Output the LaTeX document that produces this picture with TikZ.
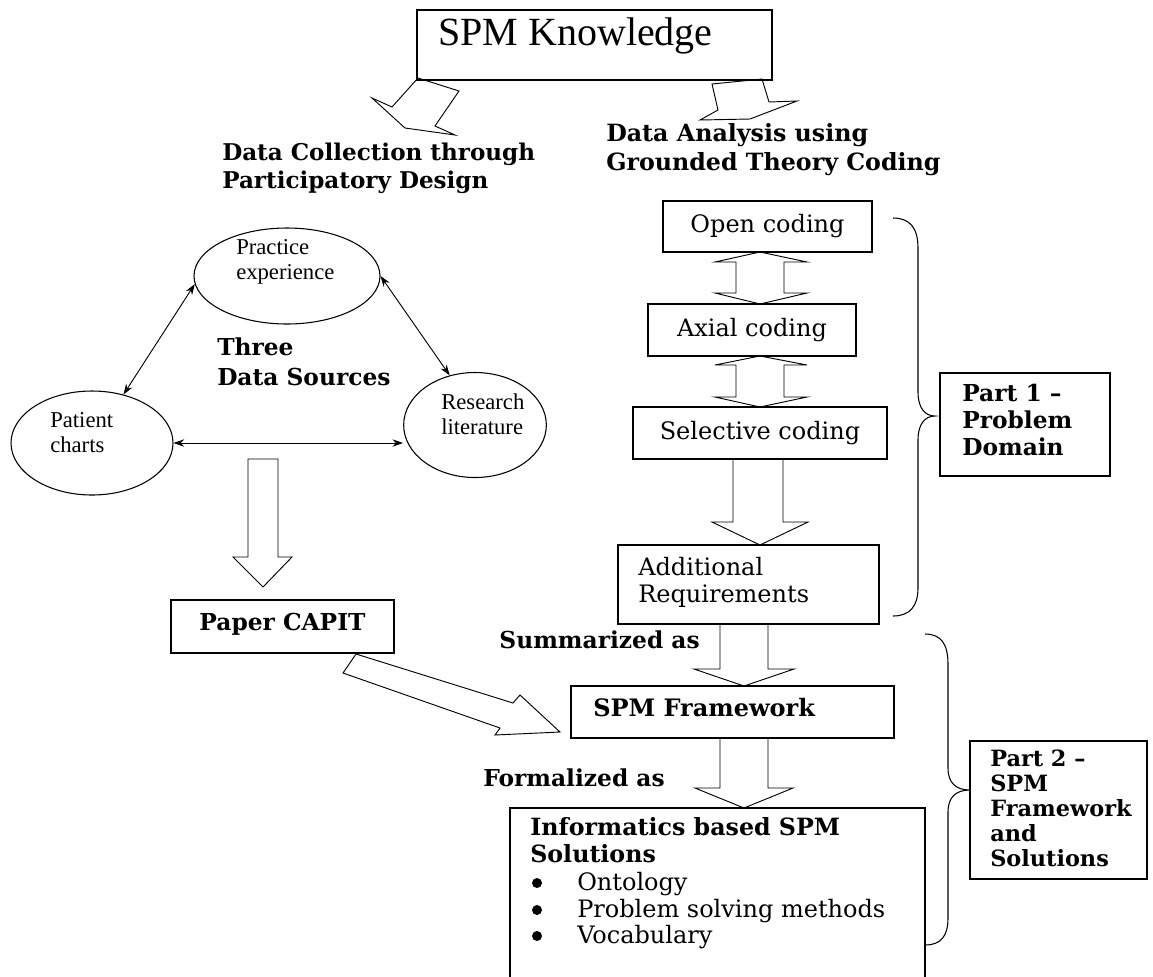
\documentclass[tikz,border=0pt]{standalone}
\usepackage{fontspec}
\setmainfont{DejaVu Serif}
\newfontfamily\tnr{Liberation Serif}
\usetikzlibrary{fit,arrows.meta,shapes.geometric}
\begin{document}
\begin{tikzpicture}[x=0.75pt,y=-0.75pt,
  box/.style={draw, line width=0.8pt, inner sep=0pt},
  blk/.style={draw, line width=0.7pt, fill=white, line join=miter},
  oval/.style={draw, ellipse, line width=0.8pt, inner sep=0pt},
  lbl/.style={font=\fontsize{17.5}{21}\selectfont\bfseries, inner sep=0pt, align=left},
  reg/.style={font=\fontsize{18}{20}\selectfont, inner sep=0pt, align=left},
  sm/.style={font=\tnr\fontsize{17}{18.5}\selectfont, inner sep=0pt, align=left},
  bul/.style={circle, fill=black, inner sep=0pt, minimum size=7.5pt},
  dbl/.style={{Stealth[length=8pt,width=5.5pt]}-{Stealth[length=8pt,width=5.5pt]}, line width=0.7pt},
  brc/.style={draw, line width=0.8pt}
]
\useasboundingbox[fill=white] (0,0) rectangle (1153,976);

% ---------- block arrows ----------
\draw[blk] (418,78) -- (459,91) -- (435,126) -- (455,135) -- (405,128) -- (372,98) -- (392,107) -- cycle;
\draw[blk] (712,84) -- (762,79) -- (769,102) -- (797,101) -- (750,119) -- (700,120) -- (718,110) -- cycle;
\draw[blk] (248,459) -- (278,459) -- (278,557) -- (292,557) -- (263,587) -- (233,557) -- (248,557) -- cycle;
\draw[blk] (760,252) -- (807,262) -- (784,262) -- (784,293) -- (807,293) -- (760,304) -- (715,293) -- (736,293) -- (736,262) -- (715,262) -- cycle;
\draw[blk] (760,356) -- (807,365) -- (784,365) -- (784,397) -- (807,397) -- (760,407) -- (715,397) -- (736,397) -- (736,365) -- (715,365) -- cycle;
\draw[blk] (733,459) -- (783,459) -- (783,522) -- (808,522) -- (760,545) -- (712,522) -- (733,522) -- cycle;
\draw[blk] (720,624) -- (768,624) -- (768,669) -- (794,669) -- (744,686) -- (694,669) -- (720,669) -- cycle;
\draw[blk] (720,738) -- (768,738) -- (768,788) -- (793,788) -- (744,808) -- (695,788) -- (720,788) -- cycle;
\draw[blk] (356,654) -- (513,703) -- (520,695) -- (560,732) -- (495,735) -- (500,728) -- (343,673) -- cycle;

% ---------- top ----------
\node[box, fit={(417,10) (772,80)}] (spm) {};
\node[anchor=base west, font=\tnr\fontsize{30}{36}\selectfont, inner sep=0pt] (spmt) at (438,45) {SPM Knowledge};

\node[lbl, anchor=base west, font=\fontsize{17.3}{21}\selectfont\bfseries] (dc) at (222,188) {Data Collection through\\Participatory Design};
\node[lbl, anchor=base west, font=\fontsize{17.8}{21.75}\selectfont\bfseries] (da) at (606,170) {Data Analysis using\\Grounded Theory Coding};

% ---------- three data sources ----------
\node[oval, minimum width=139.5pt, minimum height=72pt] (pe) at (287,276) {};
\node[oval, minimum width=121.5pt, minimum height=78pt] (pc) at (92,443) {};
\node[oval, minimum width=107pt, minimum height=78.75pt] (rl) at (475,425) {};
\node[sm, anchor=base west] (pet) at (236,279) {Practice\\experience};
\node[sm, anchor=base west] (pct) at (50,452) {Patient\\charts};
\node[sm, anchor=base west] (rlt) at (441,434) {Research\\literature};
\node[lbl, anchor=base west, font=\fontsize{17.5}{22.5}\selectfont\bfseries] (three) at (217,385) {Three\\Data Sources};

\draw[dbl] (pe.185) -- (pc.57);
\draw[dbl] (pe.0) -- (rl.117);
\draw[dbl] (pc.east) -- (pc.east -| rl.west);

\node[box, fit={(171,600) (394,653)}] (capit) {};
\node[lbl] (capitt) at ([yshift=2pt]capit.center) {Paper CAPIT};

% ---------- coding column ----------
\node[box, fit={(663,201) (872,252)}] (open) {};
\node[reg] (opent) at (open.center) {Open coding};
\node[box, fit={(648,304) (856,356)}] (axial) {};
\node[reg] (axialt) at (axial.center) {Axial coding};
\node[box, fit={(633,407) (887,459)}] (sel) {};
\node[reg] (selt) at (sel.center) {Selective coding};
\node[box, fit={(618,545) (879,624)}] (add) {};
\node[reg, anchor=base west, font=\fontsize{18}{20.25}\selectfont] (addt) at (638,602) {Additional\\Requirements};

\node[lbl, anchor=base east] (summ) at (700,648) {Summarized as};
\node[box, fit={(571,686) (894,738)}] (fw) {};
\node[lbl, anchor=base west, font=\fontsize{18}{21}\selectfont\bfseries] (fwt) at (593,716) {SPM Framework};
\node[lbl, anchor=base east] (form) at (665,786) {Formalized as};

\node[box, fit={(510,808) (925,990)}] (sol) {};
\node[lbl, anchor=base west, font=\fontsize{17.8}{20.25}\selectfont\bfseries] (solt) at (530,862) {Informatics based SPM\\Solutions};
\node[bul] (b1) at (537,883) {};
\node[bul] (b2) at (537,910) {};
\node[bul] (b3) at (537,936) {};
\node[reg, anchor=base west] (i1) at (577,890) {Ontology};
\node[reg, anchor=base west] (i2) at (577,917) {Problem solving methods};
\node[reg, anchor=base west] (i3) at (577,943) {Vocabulary};

% ---------- braces and parts ----------
\draw[brc] (893,218) .. controls (910,218) and (918,228) .. (918,248) -- (918,392)
  .. controls (918,408) and (925,416) .. (935,416)
  .. controls (925,416) and (918,424) .. (918,440) -- (918,588)
  .. controls (918,606) and (910,616) .. (893,616);
\draw[brc] (925,634) .. controls (941,634) and (948,644) .. (948,664) -- (948,768)
  .. controls (948,783) and (956,790) .. (970,790)
  .. controls (956,790) and (948,797) .. (948,812) -- (948,918)
  .. controls (948,936) and (941,945) .. (925,945);

\node[box, fit={(940,373) (1110,476)}] (p1) {};
\node[lbl, anchor=base west, font=\fontsize{17.5}{20}\selectfont\bfseries] (p1t) at (962,455) {Part 1 –\\Problem\\Domain};
\node[box, fit={(970,741) (1147,879)}] (p2) {};
\node[lbl, anchor=base west, font=\fontsize{16.8}{18.75}\selectfont\bfseries] (p2t) at (990,866) {Part 2 –\\SPM\\Framework\\and\\Solutions};
\end{tikzpicture}
\end{document}
